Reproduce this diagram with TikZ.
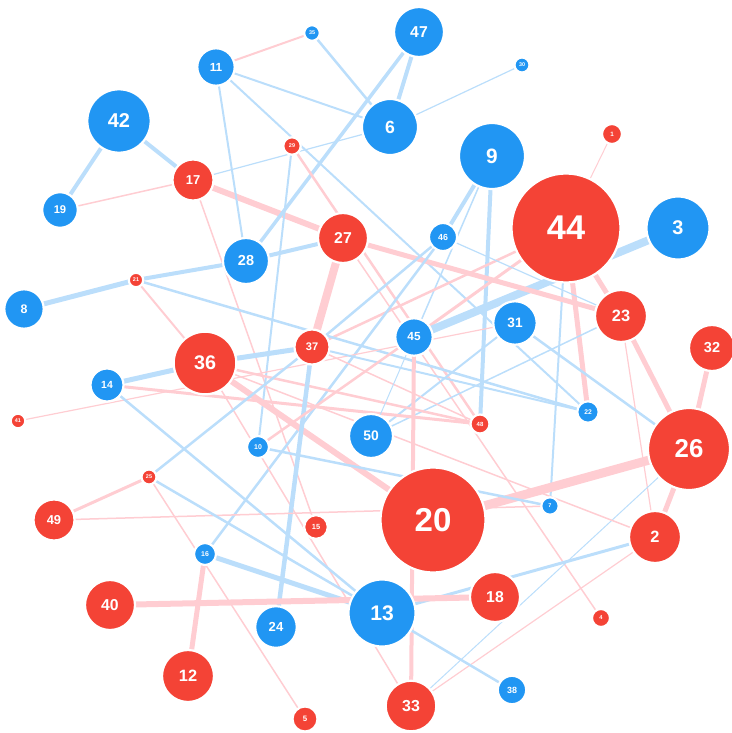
\documentclass[tikz,border=0pt]{standalone}
\usepackage{fontspec}
\setmainfont{Liberation Sans}
\definecolor{nodeblue}{HTML}{2196F3}
\definecolor{nodered}{HTML}{F44336}
\definecolor{linkblue}{HTML}{BBDEFB}
\definecolor{linkred}{HTML}{FFCDD2}
\pgfdeclarelayer{links}
\pgfsetlayers{links,main}
\tikzset{
  vertex/.style={circle, draw=white, line width=2.2pt, inner sep=0pt, text=white},
  bluelink/.style={draw=linkblue},
  redlink/.style={draw=linkred},
}
% \vtx{name}{x}{y}{radius}{fill}{label}
\newcommand\vtx[6]{%
  \pgfmathsetmacro\vtxfs{max(0.63*#4,5.4)}%
  \pgfmathsetmacro\vtxdm{2*#4}%
  \node[vertex, fill=#5, minimum size=\vtxdm pt,
        font=\fontsize{\vtxfs pt}{\vtxfs pt}\selectfont\bfseries] (#1) at (#2,#3) {#6};}
% \lb / \lr : link between two vertices, width in pt
\newcommand\lb[3]{\draw[bluelink, line width=#3pt] (#1.center) -- (#2.center);}
\newcommand\lr[3]{\draw[redlink, line width=#3pt] (#1.center) -- (#2.center);}
\begin{document}
\begin{tikzpicture}[x=1pt,y=-1pt]
\useasboundingbox (0,0) rectangle (731,733);
% vertices
\vtx{n1}{612}{134}{10}{nodered}{1}
\vtx{n2}{655}{537}{26}{nodered}{2}
\vtx{n3}{678}{228}{31.5}{nodeblue}{3}
\vtx{n4}{601}{618}{9}{nodered}{4}
\vtx{n5}{305}{719}{12.5}{nodered}{5}
\vtx{n6}{390}{127}{28}{nodeblue}{6}
\vtx{n7}{550}{506}{8.7}{nodeblue}{7}
\vtx{n8}{24}{309}{19.7}{nodeblue}{8}
\vtx{n9}{492}{156}{33}{nodeblue}{9}
\vtx{n10}{258}{447}{11}{nodeblue}{10}
\vtx{n11}{216}{67}{18.7}{nodeblue}{11}
\vtx{n12}{188}{676}{26}{nodered}{12}
\vtx{n13}{382}{613}{33.5}{nodeblue}{13}
\vtx{n14}{107}{385}{16.5}{nodeblue}{14}
\vtx{n15}{316}{527}{11.8}{nodered}{15}
\vtx{n16}{205}{554}{11}{nodeblue}{16}
\vtx{n17}{193}{180}{20.5}{nodered}{17}
\vtx{n18}{495}{597}{25}{nodered}{18}
\vtx{n19}{60}{210}{17.8}{nodeblue}{19}
\vtx{n20}{433}{520}{52.5}{nodered}{20}
\vtx{n21}{136}{280}{7.2}{nodered}{21}
\vtx{n22}{588}{412}{10.7}{nodeblue}{22}
\vtx{n23}{621}{316}{26}{nodered}{23}
\vtx{n24}{276}{627}{20.8}{nodeblue}{24}
\vtx{n25}{149}{477}{7.5}{nodered}{25}
\vtx{n26}{689}{449}{41}{nodered}{26}
\vtx{n27}{343}{238}{25}{nodered}{27}
\vtx{n28}{246}{261}{23}{nodeblue}{28}
\vtx{n29}{292}{146}{8.7}{nodered}{29}
\vtx{n30}{522}{65}{7.5}{nodeblue}{30}
\vtx{n31}{515}{323}{21.7}{nodeblue}{31}
\vtx{n32}{712}{348}{23}{nodered}{32}
\vtx{n33}{411}{706}{25.3}{nodered}{33}
\vtx{n35}{312}{33}{7.8}{nodeblue}{35}
\vtx{n36}{205}{363}{31.3}{nodered}{36}
\vtx{n37}{312}{347}{17.5}{nodered}{37}
\vtx{n38}{512}{690}{14.2}{nodeblue}{38}
\vtx{n40}{110}{605}{25}{nodered}{40}
\vtx{n41}{18}{421}{7.3}{nodered}{41}
\vtx{n42}{119}{121}{31.7}{nodeblue}{42}
\vtx{n44}{566}{228}{54.5}{nodered}{44}
\vtx{n45}{414}{337}{18.7}{nodeblue}{45}
\vtx{n46}{443}{237}{14}{nodeblue}{46}
\vtx{n47}{419}{32}{25}{nodeblue}{47}
\vtx{n48}{480}{424}{9.5}{nodered}{48}
\vtx{n49}{54}{520}{20.5}{nodered}{49}
\vtx{n50}{371}{436}{22}{nodeblue}{50}
% links, drawn beneath the vertices
\begin{pgfonlayer}{links}
\lb{n42}{n19}{4}
\lb{n42}{n17}{4}
\lr{n19}{n17}{1.5}
\lr{n17}{n27}{6}
\lr{n17}{n15}{1.5}
\lb{n6}{n17}{1.2}
\lr{n11}{n35}{2}
\lb{n11}{n6}{2}
\lb{n11}{n22}{2}
\lb{n11}{n28}{2}
\lb{n35}{n6}{2.5}
\lb{n47}{n6}{4}
\lb{n47}{n28}{3.5}
\lb{n6}{n30}{1.2}
\lr{n29}{n48}{2.5}
\lb{n29}{n10}{2}
\lb{n28}{n27}{4}
\lb{n28}{n21}{4}
\lb{n8}{n21}{5}
\lb{n9}{n46}{4}
\lb{n9}{n45}{1.5}
\lb{n9}{n48}{4}
\lr{n44}{n1}{1}
\lr{n44}{n23}{5}
\lr{n44}{n22}{5}
\lb{n44}{n7}{2}
\lr{n44}{n45}{3}
\lr{n37}{n44}{2.5}
\lb{n3}{n45}{8}
\lr{n27}{n23}{5}
\lr{n27}{n37}{8}
\lr{n27}{n4}{1.5}
\lb{n46}{n23}{1.2}
\lb{n37}{n46}{2.5}
\lb{n16}{n46}{2.5}
\lr{n23}{n26}{5}
\lr{n23}{n2}{1.2}
\lb{n23}{n50}{1.5}
\lr{n32}{n26}{5}
\lb{n31}{n26}{2.5}
\lb{n31}{n50}{2}
\lr{n26}{n20}{9}
\lr{n26}{n2}{5}
\lb{n26}{n33}{1}
\lr{n2}{n33}{1.2}
\lb{n2}{n13}{3}
\lr{n36}{n2}{1.5}
\lr{n21}{n36}{2}
\lb{n21}{n22}{2.5}
\lb{n14}{n36}{5}
\lb{n36}{n37}{5}
\lr{n36}{n20}{6}
\lr{n36}{n48}{2.5}
\lr{n14}{n48}{3}
\lr{n36}{n33}{1.5}
\lr{n41}{n31}{1.2}
\lb{n37}{n22}{2}
\lr{n37}{n48}{1.5}
\lb{n37}{n24}{4.5}
\lb{n25}{n37}{2.5}
\lb{n45}{n50}{1}
\lr{n45}{n33}{4}
\lr{n10}{n45}{2.5}
\lb{n10}{n7}{2.5}
\lr{n49}{n7}{1.5}
\lr{n49}{n25}{3}
\lb{n25}{n13}{2.5}
\lr{n25}{n5}{1.5}
\lb{n14}{n13}{2.5}
\lb{n16}{n13}{5}
\lr{n16}{n12}{5}
\lr{n40}{n18}{6}
\lb{n13}{n38}{2.5}
\end{pgfonlayer}
\end{tikzpicture}
\end{document}
